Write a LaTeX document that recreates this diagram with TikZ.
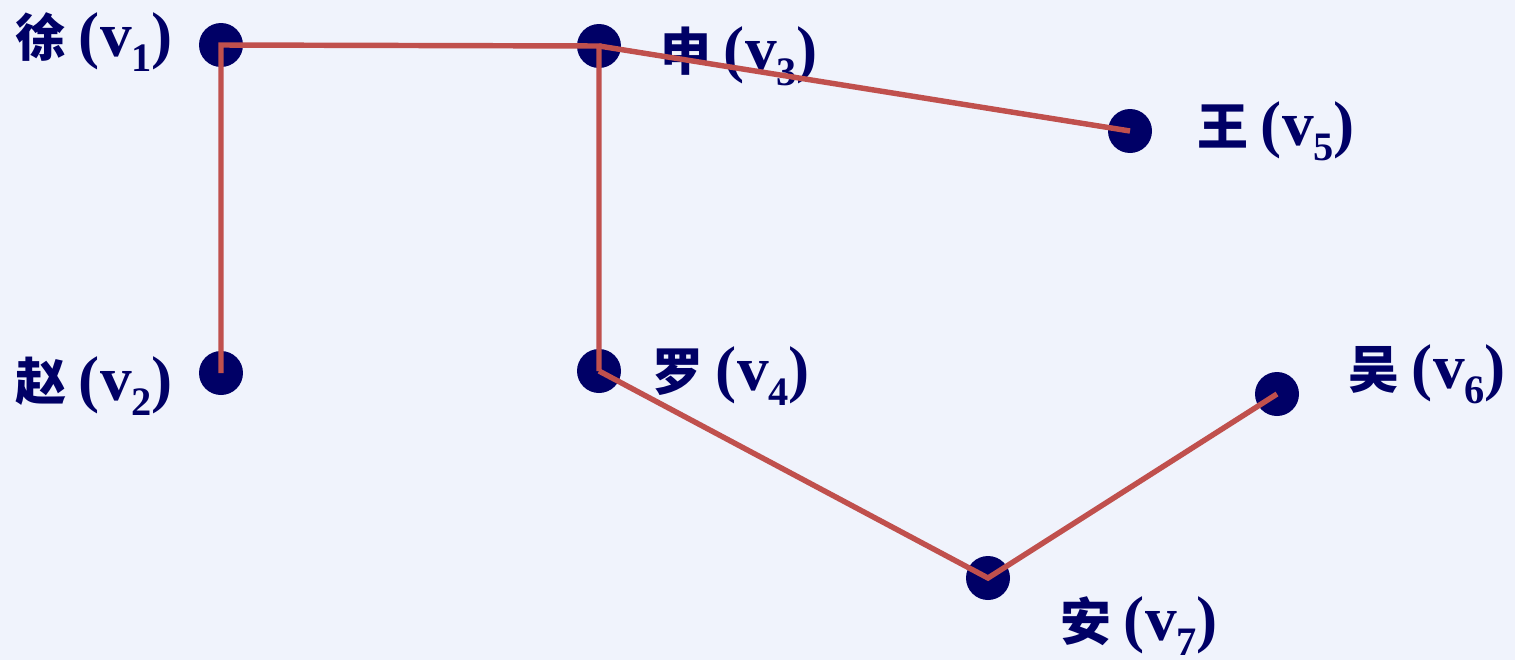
\documentclass[tikz,border=0pt]{standalone}
\usepackage{fontspec}
\setmainfont{Liberation Serif}
\newfontfamily\cjk{Noto Sans CJK SC}
\definecolor{bgblue}{RGB}{240,243,252}
\definecolor{dotblue}{RGB}{0,0,102}
\definecolor{edgered}{RGB}{192,80,77}
\tikzset{
  dot/.style={circle,fill=dotblue,inner sep=0pt,minimum size=0.88cm},
  lbl/.style={anchor=base west,inner sep=0pt,text=dotblue,font=\fontsize{36}{40}\selectfont\bfseries},
  edge/.style={draw=edgered,line width=3.1pt}
}
\newcommand{\vname}[2]{{\cjk\fontsize{29}{32}\selectfont #1}\hspace{0.2em}(v\raisebox{-0.3cm}{\fontsize{23}{25}\selectfont #2})}
\begin{document}
\begin{tikzpicture}[x=0.02cm,y=-0.02cm]
% Background
\fill[bgblue] (0,0) rectangle (1515,660);
\useasboundingbox (0,0) rectangle (1515,660);
% Draw vertices
\node[dot] (v1) at (221,45) {};
\node[dot] (v2) at (221,373) {};
\node[dot] (v3) at (599,46) {};
\node[dot] (v4) at (599,371) {};
\node[dot] (v5) at (1130,131) {};
\node[dot] (v6) at (1277,394) {};
\node[dot] (v7) at (988,578) {};

% Draw labels
\node[lbl] (l1) at (15,56) {\vname{徐}{1}};
\node[lbl] (l2) at (15,400) {\vname{赵}{2}};
\node[lbl] (l3) at (660,70) {\vname{申}{3}};
\node[lbl] (l4) at (652,390) {\vname{罗}{4}};
\node[lbl] (l5) at (1197,145) {\vname{王}{5}};
\node[lbl] (l6) at (1348,388) {\vname{吴}{6}};
\node[lbl] (l7) at (1060,640) {\vname{安}{7}};

% Draw edges
\draw[edge] (v2.center) -- (v1.center) -- (v3.center) -- (v4.center);
\draw[edge] (v3.center) -- (v5.center);
\draw[edge] (v4.center) -- (v7.center) -- (v6.center);
\end{tikzpicture}
\end{document}
